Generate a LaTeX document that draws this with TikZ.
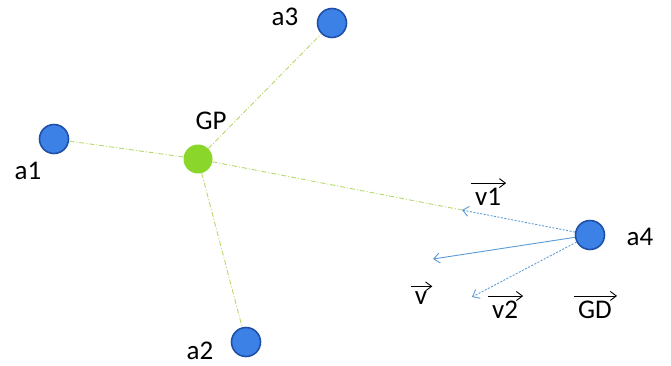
\documentclass[tikz,border=0pt]{standalone}
\usepackage{fontspec}
\setmainfont{Carlito}
\usetikzlibrary{arrows.meta}
\definecolor{ballblue}{HTML}{3C82E6}
\definecolor{balledge}{HTML}{1F4FA8}
\definecolor{ballgreen}{HTML}{8AD62A}
\definecolor{linkgreen}{HTML}{B5D96A}
\definecolor{vecblue}{HTML}{5B9BD5}
\begin{document}
\begin{tikzpicture}[x=1pt,y=-1pt,
  agent/.style={circle,fill=ballblue,draw=balledge,line width=1.6pt,minimum size=29pt,inner sep=0pt},
  gp/.style={circle,fill=ballgreen,minimum size=29pt,inner sep=0pt},
  lbl/.style={font=\fontsize{27}{27}\selectfont,inner sep=0pt},
  link/.style={draw=linkgreen,line width=0.9pt,dash pattern=on 5pt off 2pt on 1pt off 2pt},
  vec/.style={draw=vecblue,line width=0.9pt,-{Straight Barb[length=6pt,width=10pt]}},
  vecd/.style={vec,dash pattern=on 2pt off 1.5pt},
  over/.style={line width=0.9pt,-{Straight Barb[length=6pt,width=9pt]}}]
\useasboundingbox (0,0) rectangle (671,365);
\node[agent] (a1) at (54,139) {};
\node[agent] (a2) at (246,342) {};
\node[agent] (a3) at (332,23) {};
\node[gp] (gp) at (198,159) {};
\coordinate (t1) at (462,210);
\coordinate (tv) at (433,259);
\coordinate (t2) at (472,297);
\path[link] (gp) -- (a1);
\path[link] (gp) -- (a2);
\path[link] (gp) -- (a3);
\path[link] (gp) -- (t1);
\node[agent] (a4) at (590,235) {};
\path[vecd] (a4) -- (t1);
\path[vec] (a4) -- (tv);
\path[vecd] (a4) -- (t2);
\node[lbl] (la1) at (28,171) {a1};
\node[lbl] (la2) at (200,351) {a2};
\node[lbl] (la3) at (285,17) {a3};
\node[lbl] (la4) at (640,237) {a4};
\node[lbl] (lgp) at (211,121) {GP};
\node[lbl] (lv1) at (488,197) {v1};
\node[lbl] (lv) at (421,298) {v};
\node[lbl] (lv2) at (505,310) {v2};
\node[lbl] (lgd) at (595,310) {GD};
\foreach \n in {lv1,lv,lv2,lgd}{
  \draw[over] ([xshift=-4pt,yshift=5pt]\n.north west) -- ([xshift=5pt,yshift=5pt]\n.north east);
}
\end{tikzpicture}
\end{document}
